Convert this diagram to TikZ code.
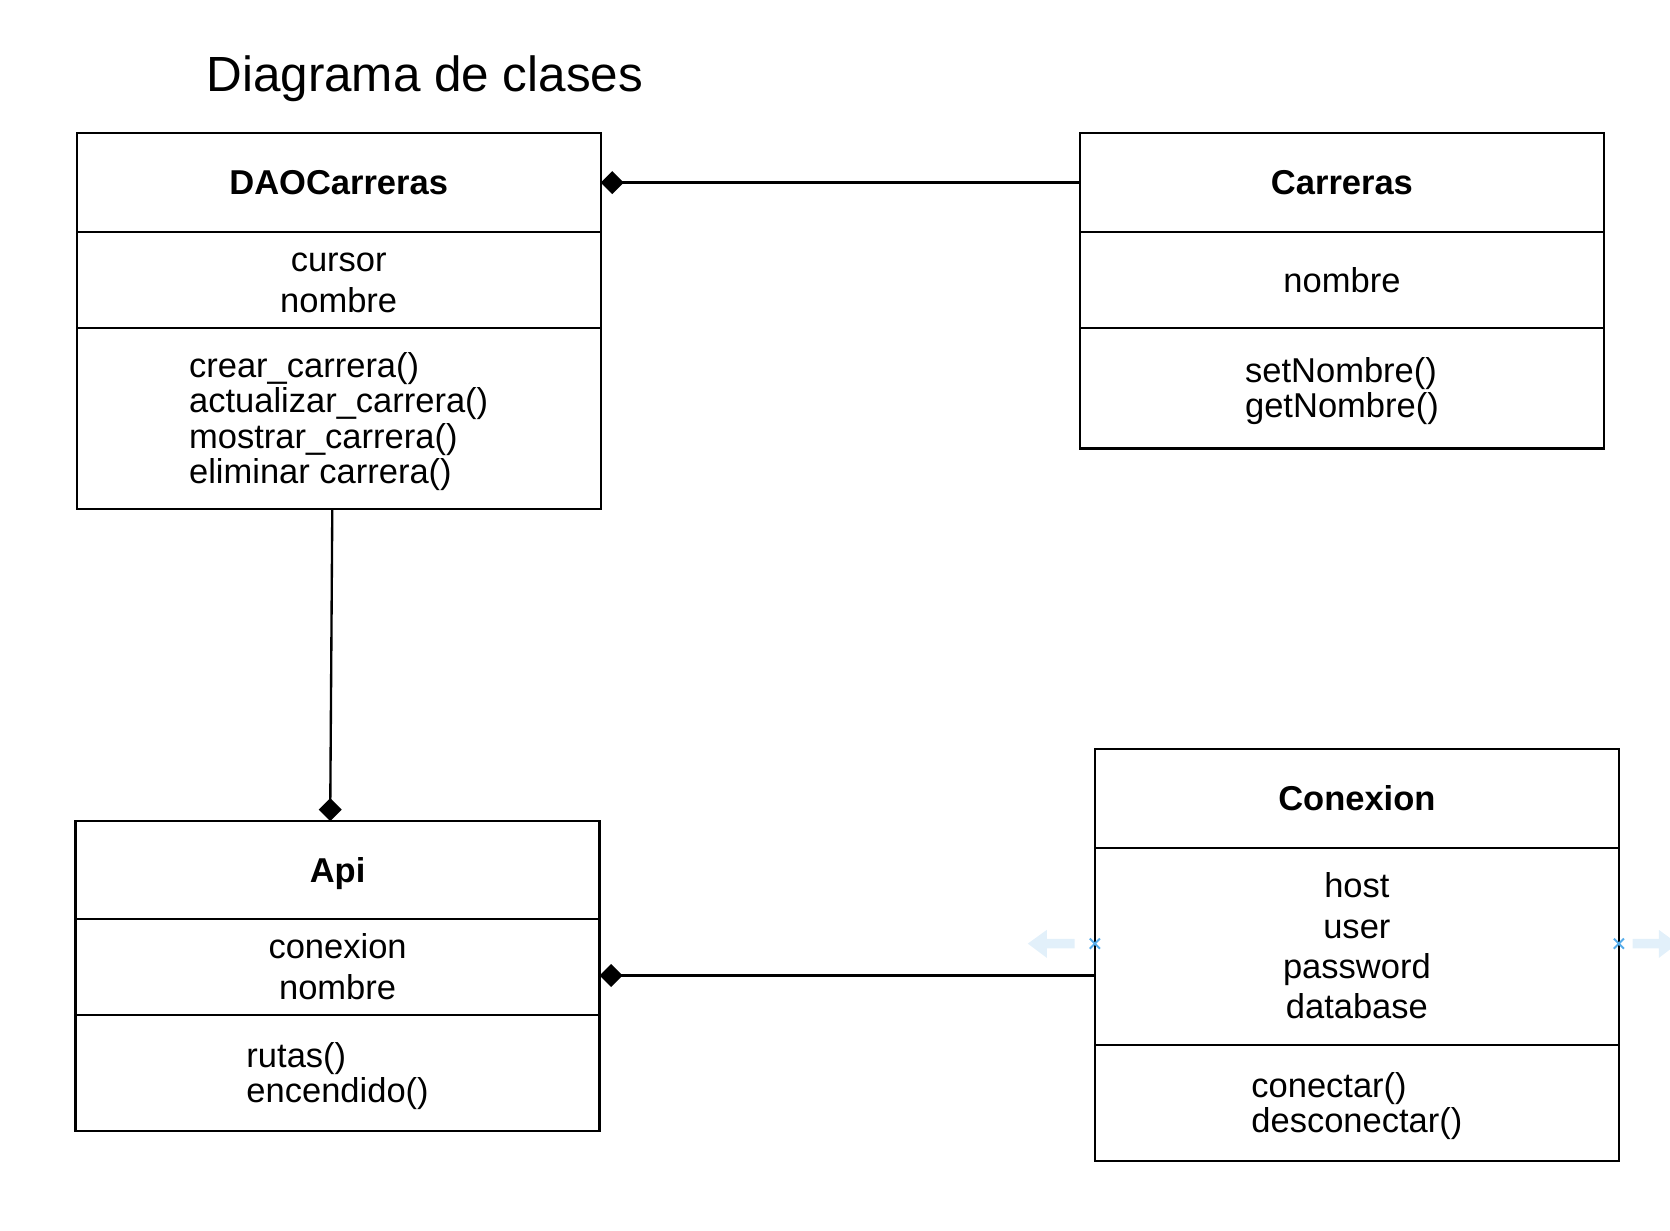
\documentclass[tikz,border=0pt]{standalone}
\usepackage{fontspec}
\setmainfont{Liberation Sans}
\usetikzlibrary{positioning,arrows.meta,calc}

\begin{document}
\begin{tikzpicture}[x=0.25pt,y=0.25pt,yscale=-1,xscale=1,
  box/.style={draw, line width=0.55pt, outer sep=0pt, inner sep=0pt, minimum width=123pt, text depth=1.72pt},
  classname/.style={box, minimum height=23.25pt, text height=7.33pt, font=\bfseries\fontsize{8.1}{9.5}\selectfont},
  attrs/.style={box, align=center, font=\fontsize{8.1}{9.5}\selectfont},
  methods/.style={box, align=left, font=\fontsize{8.1}{8.25}\selectfont},
  composition/.style={line width=0.55pt, {Diamond[length=5.4pt,width=5.4pt]}-},
  hint/.style={fill={rgb,255:red,226;green,240;blue,250}, draw=none},
  hintmark/.style={draw={rgb,255:red,86;green,172;blue,234}, line width=0.45pt}
]
%set diagram left start at 0, and has height of 1155
\useasboundingbox (0,0) rectangle (1568,1155);

% Text Node
\node[anchor=base west, inner sep=0pt, font=\fontsize{11.6}{14}\selectfont] (title) at (193,85.5) {Diagrama de clases};

%Shape: Class DAOCarreras
\node[classname] (daoname) at (318,171.5) {DAOCarreras};
\node[attrs, minimum height=22.5pt, text height=16.83pt, below=0pt of daoname] (daoattr) {cursor\\nombre};
\node[methods, minimum height=42.5pt, text height=32.08pt, below=0pt of daoattr] (daometh) {crear\_carrera()\\actualizar\_carrera()\\mostrar\_carrera()\\eliminar carrera()};

%Shape: Class Carreras
\node[classname] (carname) at (1260,171.5) {Carreras};
\node[attrs, minimum height=22.5pt, text height=7.33pt, below=0pt of carname] (carattr) {nombre};
\node[methods, minimum height=28.25pt, text height=15.58pt, below=0pt of carattr] (carmeth) {setNombre()\\getNombre()};

%Shape: Class Api
\node[classname, minimum height=23pt] (apiname) at (317,817) {Api};
\node[attrs, minimum height=22.5pt, text height=16.83pt, below=0pt of apiname] (apiattr) {conexion\\nombre};
\node[methods, minimum height=27.25pt, text height=15.58pt, below=0pt of apiattr] (apimeth) {rutas()\\encendido()};

%Shape: Class Conexion
\node[classname] (conname) at (1274,749.5) {Conexion};
\node[attrs, minimum height=46.25pt, text height=35.83pt, below=0pt of conname] (conattr) {host\\user\\password\\database};
\node[methods, minimum height=27.25pt, text height=15.58pt, below=0pt of conattr] (conmeth) {conectar()\\desconectar()};

%Straight Lines
\draw[composition] (daoname.east) -- (carname.west);
%Straight Lines
\draw[composition] ($(apiname.north)+(-7,0)$) -- ($(daometh.south)+(-6,0)$);
%Straight Lines
\coordinate (apijoin) at ($(apiattr.east)+(0,8)$);
\draw[composition] (apijoin) -- (apijoin -| conattr.west);

%Shape: Arrow hints
\fill[hint] (965,886) -- (983,873) -- (983,881.5) -- (1009,881.5) -- (1009,890.5) -- (983,890.5) -- (983,899.5) -- cycle;
\fill[hint] (1575,886) -- (1557.5,873) -- (1557.5,881.5) -- (1533,881.5) -- (1533,890.5) -- (1557.5,890.5) -- (1557.5,899.5) -- cycle;
\draw[hintmark] (1023.3,881.3) -- (1032.7,890.7) (1023.3,890.7) -- (1032.7,881.3);
\draw[hintmark] (1515.3,881.3) -- (1524.7,890.7) (1515.3,890.7) -- (1524.7,881.3);

\end{tikzpicture}
\end{document}
